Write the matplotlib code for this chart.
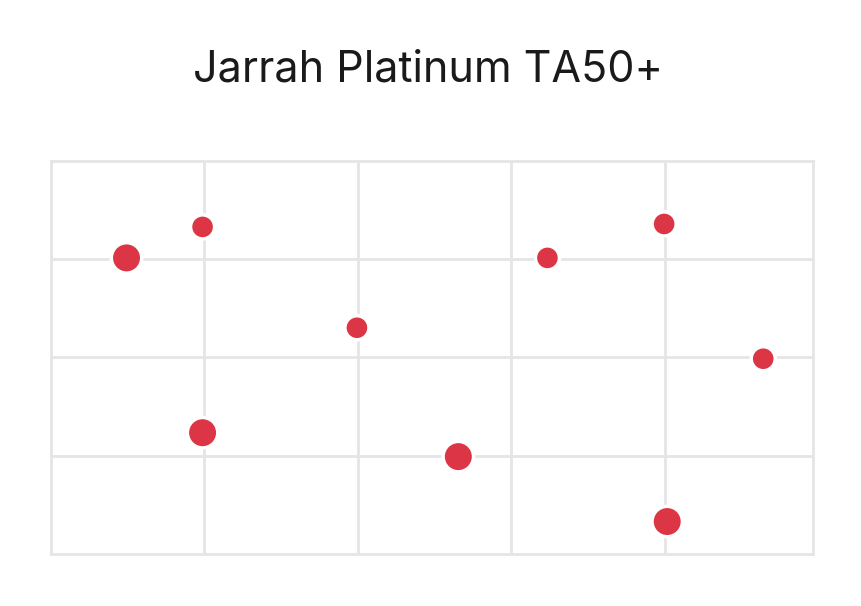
import matplotlib
matplotlib.use("Agg")
import matplotlib.pyplot as plt

x_vals = [0.495, 0.99, 1.995, 0.99, 2.655, 3.235, 3.995, 4.015, 4.64]
y_vals = [3.01, 3.325, 2.30, 1.233, 0.99, 3.01, 3.355, 0.33, 1.985]
sizes = [2, 1, 1, 2, 2, 1, 1, 2, 1]
title = "Jarrah Platinum TA50+"

plt.rcParams['font.family'] = ['Inter', 'DejaVu Sans']
fig = plt.figure(figsize=(8.61, 6.06), dpi=100)
ax = fig.add_axes([50.5/861, 1-554/606, (813-50.5)/861, (554-160.5)/606])
s_map = {1: 300, 2: 480}
ax.scatter(x_vals, y_vals, s=[s_map[v] for v in sizes], color='#dc3545',
           edgecolor='white', linewidth=2.5, zorder=3, clip_on=False)
ax.set_xlim(0, 4.964)
ax.set_ylim(0, 4)
ax.set_xticks([1, 2, 3, 4])
ax.set_yticks([1, 2, 3])
ax.tick_params(length=0, labelbottom=False, labelleft=False)
ax.grid(True, color='#e5e5e5', linewidth=2)
ax.set_axisbelow(True)
for sp in ax.spines.values():
    sp.set_color('#e5e5e5')
    sp.set_linewidth(2)
fig.text(428/861, 1-70/606, title, ha='center', va='center', fontsize=31, color='#1a1a1a')
fig.savefig("out.png", dpi=100)
